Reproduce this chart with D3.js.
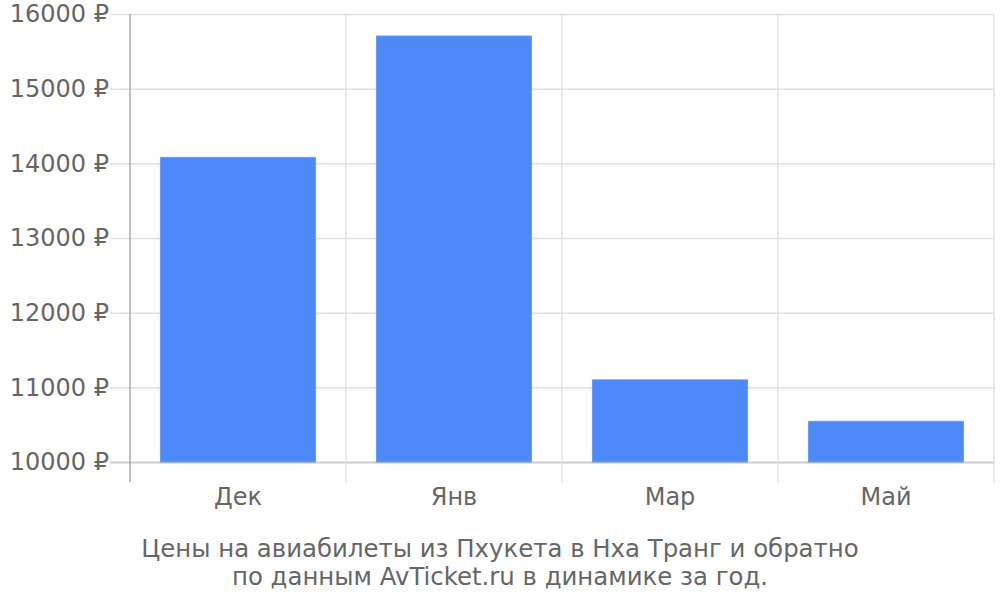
<!DOCTYPE html>
<html>
<head>
<meta charset="utf-8">
<script src="https://cdn.jsdelivr.net/npm/d3@7"></script>
<style>
  html, body { margin: 0; padding: 0; background: #fff; }
  svg { display: block; font-family: "DejaVu Sans", sans-serif; }
  .tick-label { fill: #666; font-size: 24px; }
  .caption { fill: #666; font-size: 24.4px; }
</style>
</head>
<body>
<div id="chart"></div>
<script>
const months = ["Дек", "Янв", "Мар", "Май"];
const prices = [14080, 15705, 11100, 10545];
const yTicks = [10000, 11000, 12000, 13000, 14000, 15000, 16000];
const captionLines = [
  "Цены на авиабилеты из Пхукета в Нха Транг и обратно",
  "по данным AvTicket.ru в динамике за год."
];

const width = 1000;
const height = 600;
const plot = { left: 130, right: 994, top: 14, bottom: 462 };

const svg = d3.select("#chart").append("svg")
  .attr("width", width)
  .attr("height", height);

const x = d3.scaleBand()
  .domain(months)
  .range([plot.left, plot.right])
  .paddingInner(0.282)
  .paddingOuter(0.141);

const xGrid = d3.scaleBand()
  .domain(months)
  .range([plot.left, plot.right]);

const y = d3.scaleLinear()
  .domain([10000, 16000])
  .range([plot.bottom, plot.top]);

// horizontal grid lines, slightly extended to the left as ticks
svg.append("g").selectAll("line")
  .data(yTicks)
  .join("line")
  .attr("x1", plot.left - 20)
  .attr("x2", plot.right)
  .attr("y1", d => y(d) + 0.5)
  .attr("y2", d => y(d) + 0.5)
  .attr("stroke", d => d === 10000 ? "#ccc" : "#e0e0e0")
  .attr("stroke-width", d => d === 10000 ? 2 : 1.5);

// vertical grid lines at band edges
const edges = months.map(m => xGrid(m)).concat([plot.right]);
svg.append("g").selectAll("line")
  .data(edges.slice(1))
  .join("line")
  .attr("x1", d => d)
  .attr("x2", d => d)
  .attr("y1", plot.top)
  .attr("y2", plot.bottom + 20)
  .attr("stroke", "#e0e0e0")
  .attr("stroke-width", 1.5);

// bars
svg.append("g").selectAll("rect")
  .data(months.map((m, i) => ({ month: m, value: prices[i] })))
  .join("rect")
  .attr("x", d => x(d.month))
  .attr("width", x.bandwidth())
  .attr("y", d => y(d.value))
  .attr("height", d => y(10000) - y(d.value))
  .attr("fill", "#4d89f9")
  .attr("stroke", "#6b9cf9")
  .attr("stroke-width", 1);

// left axis line
svg.append("line")
  .attr("x1", plot.left)
  .attr("x2", plot.left)
  .attr("y1", plot.top)
  .attr("y2", plot.bottom + 20)
  .attr("stroke", "#aaa")
  .attr("stroke-width", 1.5);

// y labels
svg.append("g").selectAll("text")
  .data(yTicks)
  .join("text")
  .attr("class", "tick-label")
  .attr("x", 109)
  .attr("y", d => y(d))
  .attr("dy", "0.35em")
  .attr("text-anchor", "end")
  .text(d => `${d} ₽`);

// x labels
svg.append("g").selectAll("text")
  .data(months)
  .join("text")
  .attr("class", "tick-label")
  .attr("x", d => xGrid(d) + xGrid.bandwidth() / 2)
  .attr("y", 497)
  .attr("dy", "0.35em")
  .attr("text-anchor", "middle")
  .text(d => d);

// caption
svg.append("g").selectAll("text")
  .data(captionLines)
  .join("text")
  .attr("class", "caption")
  .attr("x", 500)
  .attr("y", (d, i) => 548 + i * 28)
  .attr("dy", "0.35em")
  .attr("text-anchor", "middle")
  .text(d => d);
</script>
</body>
</html>
